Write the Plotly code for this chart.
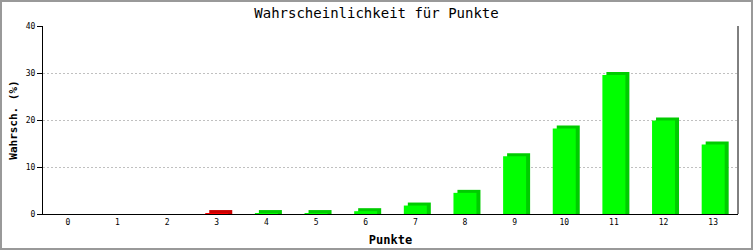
import plotly.graph_objects as go

points = list(range(14))
values = [0, 0, 0, 0.2, 0.2, 0.2, 0.6, 1.8, 4.5, 12.3, 18.2, 29.6, 19.9, 14.8]
front_colors = ["#00FF00"] * 14
front_colors[3] = "#FF0000"
side_colors = ["#00CC00"] * 14
side_colors[3] = "#CC0000"

W, H = 753, 250
ml, mr, mt, mb = 43, 15, 26, 36
pw = W - ml - mr
ph = H - mt - mb
x_per_px = 14 / pw
y_per_px = 40 / ph
bar_w = 23 * x_per_px
dx = 4 * x_per_px
dy = 3 * y_per_px

fig = go.Figure()
fig.add_trace(go.Bar(
    x=points, y=[v + dy if v > 0 else None for v in values],
    width=bar_w, offset=-bar_w / 2 + dx,
    marker=dict(color=side_colors, line=dict(width=0)),
    hoverinfo="skip", showlegend=False))
fig.add_trace(go.Bar(
    x=points, y=values, width=bar_w, offset=-bar_w / 2,
    marker=dict(color=front_colors, line=dict(width=0)),
    showlegend=False))

mono = "DejaVu Sans Mono"
fig.update_layout(
    width=W, height=H,
    margin=dict(l=ml, r=mr, t=mt, b=mb, autoexpand=False),
    barmode="overlay",
    paper_bgcolor="white", plot_bgcolor="white",
    title=dict(text="Wahrscheinlichkeit für Punkte", x=0.5, xanchor="center",
               y=1 - 13 / H, yanchor="middle",
               font=dict(family=mono, size=14, color="black")),
    xaxis=dict(range=[-0.5, 13.5], tickmode="array", tickvals=points,
               ticktext=[str(p) for p in points], showgrid=False,
               showline=True, linecolor="black", linewidth=1, ticks="",
               automargin=False,
               tickfont=dict(family=mono, size=8, color="black"),
               title=dict(text="<b>Punkte</b>", standoff=10,
                          font=dict(family=mono, size=12, color="black")),
               zeroline=False, fixedrange=True),
    yaxis=dict(range=[0, 40], dtick=10, showline=True, linecolor="black",
               linewidth=1, ticks="outside", ticklen=5, tickcolor="black",
               automargin=False,
               tickfont=dict(family=mono, size=8, color="black"),
               showgrid=True, gridcolor="#C0C0C0", griddash="2px,2px",
               gridwidth=1, zeroline=False,
               title=dict(text="<b>Wahrsch. (%)</b>", standoff=5,
                          font=dict(family=mono, size=11, color="black"))),
    shapes=[
        dict(type="line", xref="paper", yref="paper", x0=1, x1=1, y0=0, y1=1,
             line=dict(color="black", width=1)),
        dict(type="rect", xref="paper", yref="paper",
             x0=(-ml + 1) / pw, x1=(W - ml - 1) / pw,
             y0=(-mb + 1) / ph, y1=(H - mb - 1) / ph,
             line=dict(color="#999999", width=2), layer="above"),
    ],
)

fig.write_html("out.html")
